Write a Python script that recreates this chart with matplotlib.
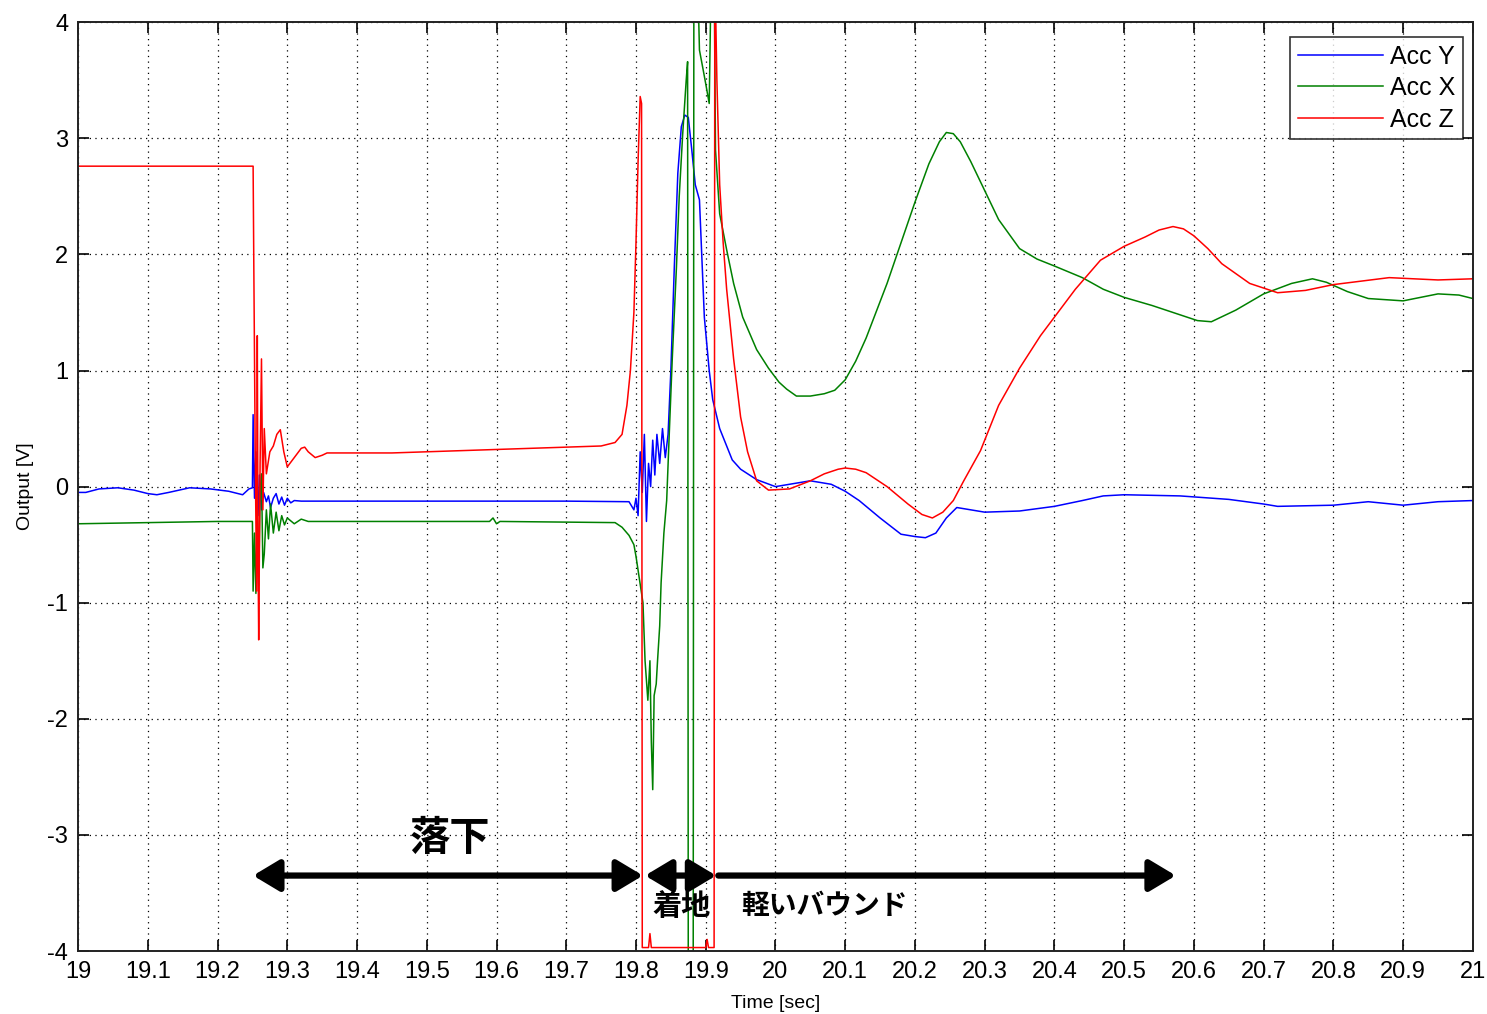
import numpy as np
import matplotlib; matplotlib.use("Agg")
import matplotlib.pyplot as plt

plt.rcParams["font.family"] = ["Liberation Sans", "DejaVu Sans"]

# --- data (time in sec, output in V) ---
t_y = [19.0, 19.011, 19.03, 19.057, 19.08, 19.1, 19.113, 19.13, 19.16, 19.19, 19.216, 19.236, 19.245,
       19.25, 19.251, 19.253, 19.255, 19.258, 19.26, 19.263, 19.266, 19.27, 19.273, 19.276, 19.28,
       19.284, 19.288, 19.292, 19.296, 19.30, 19.305, 19.31, 19.32, 19.35, 19.4, 19.5, 19.6, 19.7,
       19.79, 19.797, 19.80, 19.803, 19.806, 19.809, 19.812, 19.815, 19.818, 19.821, 19.824, 19.827,
       19.83, 19.834, 19.838, 19.842, 19.846, 19.85, 19.855, 19.86, 19.865, 19.87, 19.875, 19.88,
       19.885, 19.891, 19.898, 19.905, 19.91, 19.92, 19.93, 19.938, 19.95, 19.973, 20.0, 20.03, 20.05,
       20.08, 20.1, 20.12, 20.15, 20.18, 20.2, 20.215, 20.23, 20.245, 20.26, 20.3, 20.35, 20.4, 20.44,
       20.47, 20.5, 20.58, 20.65, 20.7, 20.72, 20.8, 20.85, 20.9, 20.95, 21.0]
acc_y = [-0.05, -0.05, -0.02, -0.01, -0.03, -0.06, -0.07, -0.05, -0.01, -0.02, -0.04, -0.07, -0.02,
         -0.01, 0.62, -0.1, 0.3, -0.25, 0.1, -0.2, -0.05, -0.13, -0.08, -0.18, -0.1,
         -0.06, -0.15, -0.09, -0.16, -0.1, -0.14, -0.12, -0.125, -0.125, -0.125, -0.125, -0.125, -0.125,
         -0.13, -0.2, -0.1, -0.25, 0.3, -0.05, 0.45, -0.3, 0.2, 0.0, 0.4, 0.1,
         0.45, 0.2, 0.5, 0.25, 0.45, 1.0, 1.9, 2.7, 3.1, 3.2, 3.18, 2.9,
         2.6, 2.47, 1.46, 1.0, 0.75, 0.5, 0.35, 0.23, 0.15, 0.06, 0.0, 0.03, 0.05,
         0.02, -0.04, -0.12, -0.27, -0.41, -0.43, -0.44, -0.4, -0.27, -0.18, -0.22, -0.21, -0.17, -0.12,
         -0.08, -0.07, -0.08, -0.11, -0.15, -0.17, -0.16, -0.13, -0.16, -0.13, -0.12]

t_x = [19.0, 19.1, 19.2, 19.25, 19.251, 19.253, 19.255, 19.257, 19.259, 19.261, 19.263, 19.265,
       19.267, 19.27, 19.273, 19.276, 19.28, 19.284, 19.288, 19.292, 19.296, 19.30, 19.31, 19.32,
       19.33, 19.35, 19.5, 19.59, 19.595, 19.6, 19.605, 19.77, 19.78, 19.79, 19.797, 19.80, 19.805,
       19.81, 19.813, 19.817, 19.82, 19.822, 19.824, 19.826, 19.829, 19.831, 19.834, 19.836, 19.84,
       19.844, 19.848, 19.852, 19.858, 19.862, 19.867, 19.872, 19.874, 19.875, 19.882, 19.883, 19.888,
       19.891, 19.896, 19.90, 19.905, 19.908, 19.912, 19.914, 19.92, 19.93, 19.94, 19.953, 19.973,
       19.99, 20.005, 20.016, 20.03, 20.05, 20.07, 20.085, 20.1, 20.115, 20.13, 20.16, 20.18, 20.2,
       20.22, 20.235, 20.245, 20.255, 20.265, 20.28, 20.3, 20.32, 20.35, 20.375, 20.4, 20.44, 20.47,
       20.5, 20.54, 20.58, 20.605, 20.625, 20.66, 20.7, 20.74, 20.77, 20.79, 20.82, 20.85, 20.9,
       20.95, 20.98, 21.0]
acc_x = [-0.32, -0.31, -0.3, -0.3, -0.9, -0.4, -0.92, -0.2, -0.85, -0.05, 0.11, -0.7,
         -0.58, -0.2, -0.45, -0.15, -0.4, -0.22, -0.38, -0.25, -0.33, -0.27, -0.32, -0.28,
         -0.3, -0.3, -0.3, -0.3, -0.27, -0.32, -0.3, -0.31, -0.35, -0.42, -0.5, -0.6, -0.8,
         -1.0, -1.5, -1.84, -1.5, -2.2, -2.61, -1.8, -1.7, -1.49, -1.2, -0.83, -0.4,
         -0.12, 0.5, 1.1, 1.89, 2.5, 3.04, 3.5, 3.66, -4.5, -4.5, 4.5, 4.5,
         3.76, 3.6, 3.47, 3.3, 4.5, 4.5, 2.9, 2.35, 2.04, 1.75, 1.46, 1.18,
         1.02, 0.9, 0.84, 0.78, 0.78, 0.8, 0.83, 0.92, 1.08, 1.28, 1.75, 2.1, 2.45,
         2.78, 2.97, 3.05, 3.04, 2.97, 2.8, 2.55, 2.3, 2.05, 1.96, 1.9, 1.8, 1.7,
         1.63, 1.56, 1.48, 1.43, 1.42, 1.52, 1.66, 1.75, 1.79, 1.76, 1.68, 1.62, 1.6,
         1.66, 1.65, 1.62]

t_z = [19.0, 19.251, 19.252, 19.254, 19.256, 19.257, 19.258, 19.259, 19.261, 19.263, 19.265, 19.267,
       19.27, 19.275, 19.28, 19.285, 19.29, 19.295, 19.30, 19.31, 19.32, 19.325, 19.33, 19.34,
       19.35, 19.357, 19.45, 19.55, 19.6, 19.65, 19.7, 19.75, 19.77, 19.78, 19.787, 19.792, 19.797,
       19.80, 19.803, 19.806, 19.808, 19.809, 19.818, 19.82, 19.822, 19.90, 19.902, 19.904, 19.912,
       19.913, 19.916, 19.92, 19.925, 19.93, 19.94, 19.95, 19.96, 19.973, 19.99, 20.02, 20.05, 20.07,
       20.09, 20.1, 20.115, 20.13, 20.16, 20.19, 20.21, 20.225, 20.24, 20.255, 20.27, 20.294, 20.32,
       20.35, 20.38, 20.43, 20.466, 20.5, 20.53, 20.55, 20.57, 20.585, 20.6, 20.62, 20.64, 20.68,
       20.72, 20.76, 20.8, 20.88, 20.95, 21.0]
acc_z = [2.76, 2.76, 1.9, 0.3, -0.9, 1.3, -0.5, -1.32, 0.2, 1.1, -0.2, 0.5,
         0.11, 0.3, 0.35, 0.45, 0.49, 0.3, 0.17, 0.25, 0.33, 0.34, 0.3, 0.25,
         0.27, 0.29, 0.29, 0.31, 0.32, 0.33, 0.34, 0.35, 0.38, 0.45, 0.7, 1.0, 1.5,
         2.1, 2.8, 3.36, 3.3, -3.97, -3.97, -3.85, -3.97, -3.97, -3.9, -3.97, -3.97,
         4.5, 3.5, 2.6, 2.1, 1.7, 1.1, 0.6, 0.3, 0.05, -0.03, -0.02, 0.05, 0.11,
         0.15, 0.16, 0.15, 0.12, 0.0, -0.15, -0.24, -0.27, -0.22, -0.12, 0.05, 0.31, 0.7,
         1.02, 1.3, 1.7, 1.95, 2.07, 2.15, 2.21, 2.24, 2.22, 2.16, 2.05, 1.92, 1.75,
         1.67, 1.69, 1.74, 1.8, 1.78, 1.79]

x_ticks = [19.0, 19.1, 19.2, 19.3, 19.4, 19.5, 19.6, 19.7, 19.8, 19.9, 20.0,
           20.1, 20.2, 20.3, 20.4, 20.5, 20.6, 20.7, 20.8, 20.9, 21.0]
x_labels = ["19", "19.1", "19.2", "19.3", "19.4", "19.5", "19.6", "19.7", "19.8", "19.9", "20",
            "20.1", "20.2", "20.3", "20.4", "20.5", "20.6", "20.7", "20.8", "20.9", "21"]
y_ticks = [-4, -3, -2, -1, 0, 1, 2, 3, 4]
y_labels = ["-4", "-3", "-2", "-1", "0", "1", "2", "3", "4"]

# phases: (start, end, label)
phase_fall = (19.251, 19.81, "落下")
phase_land = (19.813, 19.915, "着地")
phase_bounce = (19.918, 20.574, "軽いバウンド")

fig = plt.figure(figsize=(14.87, 10.14), dpi=100)
ax = fig.add_axes([0.0525, 0.0621, 0.938, 0.916])

ax.plot(t_y, acc_y, color="#0000ff", lw=1.1, label="Acc Y")
ax.plot(t_x, acc_x, color="#008000", lw=1.1, label="Acc X")
ax.plot(t_z, acc_z, color="#ff0000", lw=1.1, label="Acc Z")

ax.set_xlim(19, 21); ax.set_ylim(-4, 4)
ax.set_xticks(x_ticks); ax.set_xticklabels(x_labels)
ax.set_yticks(y_ticks); ax.set_yticklabels(y_labels)
ax.tick_params(direction="in", length=8, width=1.2, labelsize=17, top=True, right=True, pad=7)
ax.grid(True, color="black", linestyle=(0, (1, 3.5)), lw=0.9)
for s in ax.spines.values():
    s.set_linewidth(1.4); s.set_color("#222222")
ax.set_xlabel("Time [sec]", fontsize=14, labelpad=9)
ax.set_ylabel("Output [V]", fontsize=14, labelpad=10)

leg = ax.legend(loc="upper right", bbox_to_anchor=(0.9928, 0.984), fontsize=18, frameon=True,
                fancybox=False, handlelength=3.4, handletextpad=0.3, labelspacing=0.3,
                borderpad=0.3, borderaxespad=0)
leg.get_frame().set_edgecolor("black"); leg.get_frame().set_linewidth(1.2)

ay = -3.35
arr = dict(color="black", lw=4.5, shrinkA=0, shrinkB=0)
hs = "head_length=0.8,head_width=0.48"
ax.annotate("", xy=(phase_fall[1], ay), xytext=(phase_fall[0], ay),
            arrowprops=dict(arrowstyle="<|-|>," + hs, mutation_scale=20, **arr))
ax.annotate("", xy=(phase_land[1], ay), xytext=(phase_land[0], ay),
            arrowprops=dict(arrowstyle="<|-|>," + hs, mutation_scale=20, **arr))
ax.annotate("", xy=(phase_bounce[1], ay), xytext=(phase_bounce[0], ay),
            arrowprops=dict(arrowstyle="-|>," + hs, mutation_scale=20, **arr))

jp = ["Noto Sans CJK JP", "DejaVu Sans"]
ax.text(19.534, -3.03, phase_fall[2], family=jp, weight="bold", fontsize=29, ha="center", va="center")
ax.text(19.865, -3.61, phase_land[2], family=jp, weight="bold", fontsize=21, ha="center", va="center")
ax.text(20.07, -3.61, phase_bounce[2], family=jp, weight="bold", fontsize=20, ha="center", va="center")

fig.savefig("out.png", dpi=100)
